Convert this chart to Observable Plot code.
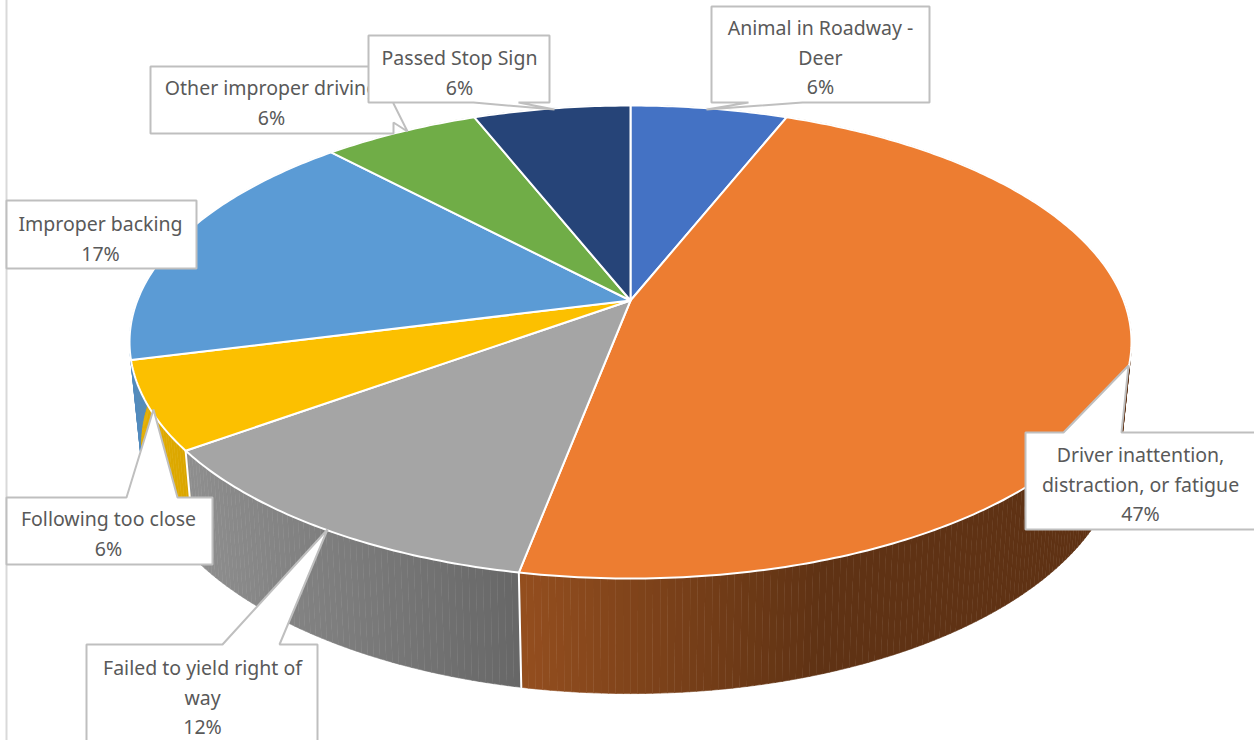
<!DOCTYPE html>
<html>
<head>
<meta charset="utf-8">
<script src="https://cdn.jsdelivr.net/npm/d3@7"></script>
<script src="https://cdn.jsdelivr.net/npm/@observablehq/plot@0.6"></script>
<style>
html,body{margin:0;padding:0;background:#fff;overflow:hidden}
svg{display:block}
</style>
</head>
<body>
<div id="chart"></div>
<script>
// Data, clockwise from 12 o'clock
const categories = ["Animal in Roadway -\nDeer", "Driver inattention,\ndistraction, or fatigue", "Failed to yield right of\nway", "Following too close", "Improper backing", "Other improper driving", "Passed Stop Sign"];
const values = [6, 47, 12, 6, 17, 6, 6];
const colors = ["#4472c4", "#ed7d31", "#a5a5a5", "#fcc000", "#5b9bd5", "#70ad47", "#264478"];

// Callout layout (pixel frame of the picture)
const callouts = [
  {i: 5, at: [271, 100], shape: [[150,66],[393,66],[393,103],[407,131],[393,122],[393,133],[150,133]]},
  {i: 6, at: [459, 70],  shape: [[368,35],[549,35],[549,102],[518,102],[554,109],[473,102],[368,102]]},
  {i: 0, at: [820, 55],  shape: [[711,6],[929,6],[929,102],[802,102],[706,109],[748,102],[711,102]]},
  {i: 1, at: [1140, 482], shape: [[1025,432],[1063,432],[1128,365],[1121,432],[1262,432],[1262,529],[1025,529]]},
  {i: 4, at: [100, 236], shape: [[6,200],[196,200],[196,268],[6,268]]},
  {i: 3, at: [108, 531], shape: [[6,497],[126,497],[153,409],[177,497],[212,497],[212,564],[6,564]]},
  {i: 2, at: [202, 695], shape: [[86,644],[222,644],[327,529],[279,644],[317,644],[317,760],[86,760]]}
];

// Perspective disc: top face and bottom rim of the pie
const k = 0.1755;
const face = {cx: 630, cy: 300, a: 493.2, b: 229.2};
const base = {cx: 630, cy: 401.5, a: 482.4, b: 240.4};
const rim = (d, f) => {
  const t = 2 * Math.PI * f, den = 1 + k * Math.cos(t);
  return {x: d.cx + d.a * Math.sin(t) / den, y: d.cy - d.b * Math.cos(t) / den};
};

const total = d3.sum(values);
const edges = d3.cumsum(values).map(v => v / total);
const starts = [0, ...edges.slice(0, -1)];
const step = 0.002;
const range = (a, b) => { const n = Math.max(1, Math.ceil((b - a) / step)); return d3.range(n + 1).map(j => a + (b - a) * j / n); };

// Side wall strips, shaded by horizontal position
const shade = (c, x) => {
  const f = Math.max(0.4, Math.min(0.9, 0.62 - 0.00073 * (x - 523)));
  const r = d3.rgb(c);
  return d3.rgb(r.r * f, r.g * f, r.b * f).formatHex();
};
const strips = [];
values.forEach((v, i) => {
  const fs = range(starts[i], edges[i]);
  d3.pairs(fs).forEach(([f0, f1], j) => {
    const a = rim(face, f0), b = rim(face, f1), c = rim(base, f1), d = rim(base, f0);
    const col = shade(colors[i], (a.x + b.x) / 2);
    const id = i + "-" + j;
    for (const p of [a, b, c, d]) strips.push({...p, id, col});
  });
});
// only front-facing slices show; paint them back to front order is not needed since the top covers the rest
const wallEdges = [edges[1], edges[2]].flatMap((f, i) => [{...rim(face, f), id: i}, {...rim(base, f), id: i}]);

const slices = values.flatMap((v, i) => [
  {x: face.cx, y: face.cy, i, col: colors[i]},
  ...range(starts[i], edges[i]).map(f => ({...rim(face, f), i, col: colors[i]}))
]);

const font = {fontFamily: "'Noto Sans'", fontSize: 19.5, fill: "#595959", lineHeight: 1.51, textAnchor: "middle"};
const calloutMarks = callouts.flatMap(c => {
  const pts = c.shape.map(([x, y]) => ({x, y}));
  return [
    Plot.line(pts, {x: "x", y: "y", fill: "#fff", stroke: "#bfbfbf", strokeWidth: 2, curve: "linear-closed", strokeLinejoin: "miter"}),
    Plot.text([c], {x: d => d.at[0], y: d => d.at[1], text: d => categories[d.i] + "\n" + values[d.i] + "%", ...font})
  ];
});

const chart = Plot.plot({
  width: 1254, height: 740, margin: 0,
  x: {domain: [0, 1254], range: [0, 1254], axis: null},
  y: {domain: [0, 740], range: [0, 740], axis: null},
  color: {type: "identity"},
  style: {background: "#fff"},
  marks: [
    Plot.line(strips, {x: "x", y: "y", z: "id", fill: "col", stroke: "col", strokeWidth: 0.6, curve: "linear-closed"}),
    Plot.line(wallEdges, {x: "x", y: "y", z: "id", stroke: "#fff", strokeWidth: 2}),
    Plot.line(slices, {x: "x", y: "y", z: "i", fill: "col", stroke: "#fff", strokeWidth: 2, curve: "linear-closed"}),
    Plot.ruleX([6], {y1: 0, y2: 740, stroke: "#d9d9d9", strokeWidth: 2}),
    ...calloutMarks
  ]
});
document.getElementById("chart").append(chart);
</script>
</body>
</html>
